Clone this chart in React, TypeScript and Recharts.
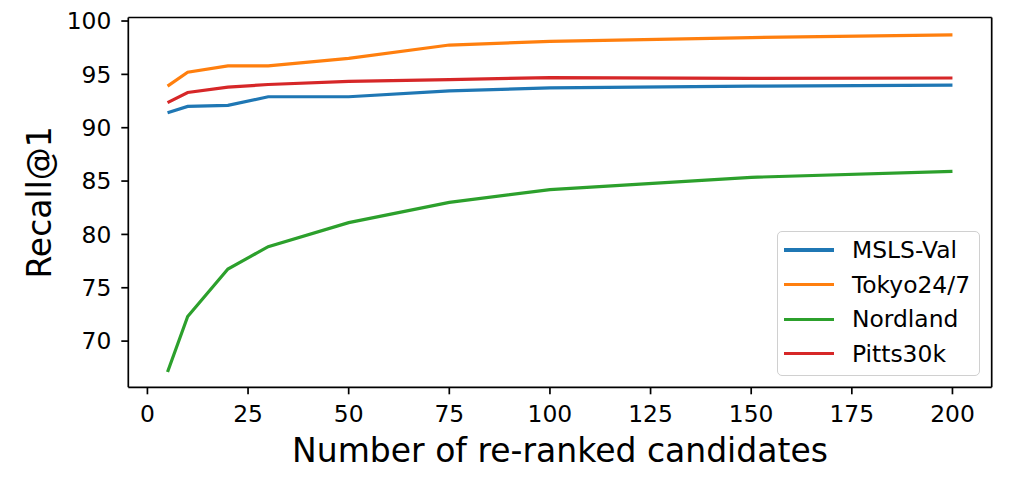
import { LineChart, Line, XAxis, YAxis, ReferenceLine } from "recharts";

const candidates = [5, 10, 20, 30, 50, 75, 100, 150, 200];
const mslsVal = [91.4, 92.0, 92.1, 92.9, 92.9, 93.45, 93.73, 93.9, 94.0];
const tokyo247 = [93.9, 95.2, 95.8, 95.8, 96.5, 97.75, 98.1, 98.45, 98.7];
const nordland = [67.1, 72.3, 76.75, 78.85, 81.1, 83.0, 84.2, 85.35, 85.9];
const pitts30k = [92.35, 93.3, 93.8, 94.05, 94.35, 94.5, 94.7, 94.63, 94.66];

const xTicks = [0, 25, 50, 75, 100, 125, 150, 175, 200];
const yTicks = [70, 75, 80, 85, 90, 95, 100];

const X_DOMAIN = [-4.75, 209.75];
const Y_DOMAIN = [65.67, 100.33];

const series = [
  { key: "msls", name: "MSLS-Val", color: "#1f77b4", values: mslsVal },
  { key: "tokyo", name: "Tokyo24/7", color: "#ff7f0e", values: tokyo247 },
  { key: "nordland", name: "Nordland", color: "#2ca02c", values: nordland },
  { key: "pitts", name: "Pitts30k", color: "#d62728", values: pitts30k },
];

const data = candidates.map((c, i) => {
  const row: Record<string, number> = { k: c };
  series.forEach((s) => (row[s.key] = s.values[i]));
  return row;
});

const FONT = "'DejaVu Sans', sans-serif";
const tickStyle = { fontSize: 23.4, fill: "#000", fontFamily: FONT };

// matplotlib-style legend box in the lower right
function LegendBox() {
  return (
    <div
      style={{
        position: "absolute",
        left: 777,
        top: 231,
        width: 203,
        height: 145,
        border: "1.5px solid #d0d0d0",
        borderRadius: 5,
        background: "rgba(255,255,255,0.8)",
        fontFamily: FONT,
        fontSize: 23.4,
        boxSizing: "border-box",
      }}
    >
      {series.map((s, i) => (
        <div
          key={s.key}
          style={{
            position: "absolute",
            left: 0,
            top: 1 + i * 34.6,
            height: 34,
            display: "flex",
            alignItems: "center",
          }}
        >
          <span style={{ display: "inline-block", marginLeft: 6, width: 50, height: 3.2, background: s.color }} />
          <span style={{ marginLeft: 18, color: "#000" }}>{s.name}</span>
        </div>
      ))}
    </div>
  );
}

export default function App() {
  return (
    <div style={{ position: "fixed", left: 0, top: 0, width: 1017, height: 482, background: "#fff" }}>
      <LineChart width={1017} height={482} data={data} margin={{ top: 17.5, right: 25.3, bottom: 0, left: 0 }}>
        <XAxis
          dataKey="k"
          type="number"
          domain={X_DOMAIN}
          ticks={xTicks}
          allowDataOverflow
          height={94.7}
          stroke="#000"
          strokeWidth={1.7}
          tickSize={7}
          tickMargin={11}
          tick={tickStyle}
          label={({ viewBox }: any) => (
            <text
              x={viewBox.x + viewBox.width / 2}
              y={462}
              textAnchor="middle"
              fontSize={33}
              fontFamily={FONT}
              fill="#000"
            >
              Number of re-ranked candidates
            </text>
          )}
        />
        <YAxis
          type="number"
          domain={Y_DOMAIN}
          ticks={yTicks}
          allowDataOverflow
          width={128.3}
          stroke="#000"
          strokeWidth={1.7}
          tickSize={7}
          tickMargin={10}
          tick={tickStyle}
          label={({ viewBox }: any) => {
            const cy = viewBox.y + viewBox.height / 2;
            return (
              <text
                x={40}
                y={cy}
                transform={`rotate(-90, 40, ${cy})`}
                textAnchor="middle"
                dominantBaseline="central"
                fontSize={33}
                fontFamily={FONT}
                fill="#000"
              >
                Recall@1
              </text>
            );
          }}
        />
        {/* top and right spines */}
        <ReferenceLine y={Y_DOMAIN[1]} stroke="#000" strokeWidth={1.7} />
        <ReferenceLine x={X_DOMAIN[1]} stroke="#000" strokeWidth={1.7} />
        {series.map((s) => (
          <Line
            key={s.key}
            dataKey={s.key}
            name={s.name}
            stroke={s.color}
            strokeWidth={3.2}
            dot={false}
            activeDot={false}
            isAnimationActive={false}
          />
        ))}
      </LineChart>
      <LegendBox />
    </div>
  );
}
